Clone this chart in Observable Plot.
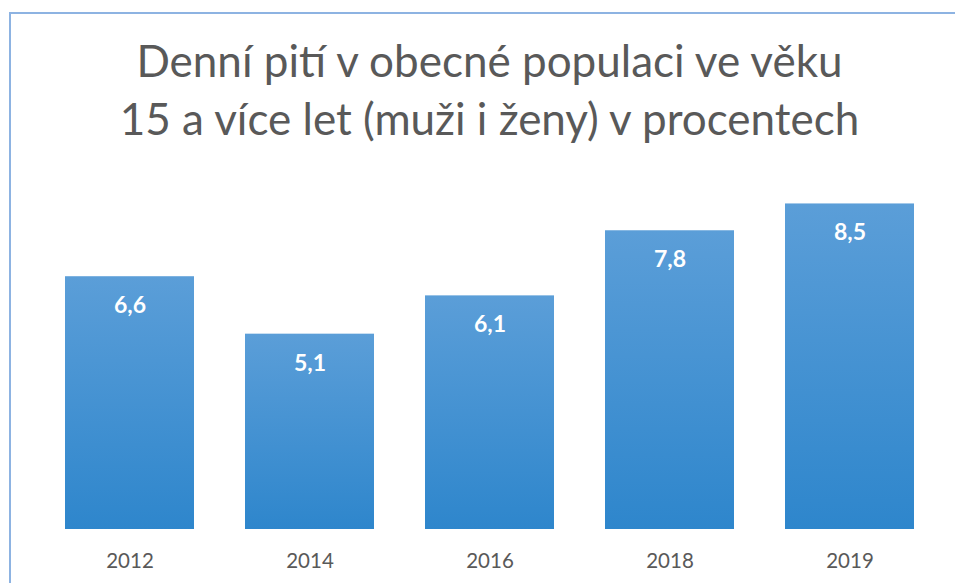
<!DOCTYPE html>
<html>
<head>
<meta charset="utf-8">
<script src="https://cdn.jsdelivr.net/npm/d3@7"></script>
<script src="https://cdn.jsdelivr.net/npm/@observablehq/plot@0.6"></script>
<style>
  html, body { margin: 0; padding: 0; background: #fff; }
  #wrap { position: relative; width: 955px; height: 583px; overflow: hidden; }
  #title { position: absolute; left: 0; top: 31px; width: 955px; text-align: center;
    font-family: Lato, "Open Sans", sans-serif; font-size: 44px; line-height: 58px; color: #595959; padding-left: 24px; box-sizing: border-box; }
  #frame { position: absolute; left: 9px; top: 12px; width: 960px; height: 600px;
    border-left: 2px solid #8db3e2; border-top: 2px solid #8db3e2; box-sizing: border-box; }
  #chart { position: absolute; left: 0; top: 0; }
</style>
</head>
<body>
<div id="wrap">
  <div id="frame"></div>
  <div id="title">Denní pití v obecné populaci ve věku<br>15 a více let (muži i ženy) v procentech</div>
  <div id="chart"></div>
</div>
<script>
const years = ["2012", "2014", "2016", "2018", "2019"];
const values = [6.6, 5.1, 6.1, 7.8, 8.5];
const labels = ["6,6", "5,1", "6,1", "7,8", "8,5"];

const data = years.map((y, i) => ({year: y, value: values[i], label: labels[i]}));

const chart = Plot.plot({
  width: 955,
  height: 583,
  marginTop: 146,
  marginBottom: 54,
  marginLeft: 40,
  marginRight: 15,
  style: {background: "transparent", fontFamily: "Lato, 'Open Sans', sans-serif"},
  x: {domain: years, paddingInner: 0.283, paddingOuter: 0.1415, label: null},
  y: {domain: [0, 10], axis: null},
  marks: [
    Plot.barY(data, {x: "year", y: "value", fill: "url(#barGrad)"}),
    Plot.text(data, {x: "year", y: "value", text: "label", dy: 29, fill: "white",
      fontWeight: "bold", fontSize: 23}),
    Plot.axisX({tickSize: 0, tickPadding: 24, fontSize: 20.5, color: "#595959", label: null})
  ]
});

const svg = d3.select(chart);
const defs = svg.insert("defs", ":first-child");
const g = defs.append("linearGradient").attr("id", "barGrad")
  .attr("x1", 0).attr("y1", 0).attr("x2", 0).attr("y2", 1);
g.append("stop").attr("offset", "0%").attr("stop-color", "#5b9ed8");
g.append("stop").attr("offset", "100%").attr("stop-color", "#2e86cc");

document.getElementById("chart").appendChild(chart);
</script>
</body>
</html>
